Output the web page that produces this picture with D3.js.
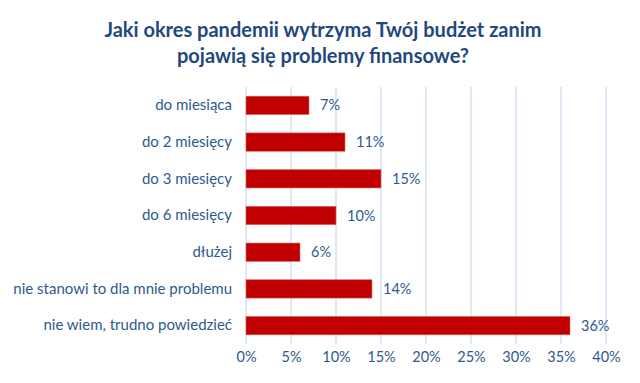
<!DOCTYPE html>
<html><head><meta charset="utf-8">
<script src="https://cdn.jsdelivr.net/npm/d3@7"></script>
<style>body{margin:0;background:#fff}svg{display:block}</style>
</head><body><div id="c"></div>
<script>
const categories = ["do miesiąca","do 2 miesięcy","do 3 miesięcy","do 6 miesięcy","dłużej","nie stanowi to dla mnie problemu","nie wiem, trudno powiedzieć"];
const values = [7,11,15,10,6,14,36];
const ticks = [0,5,10,15,20,25,30,35,40];
const titleLines = ["Jaki okres pandemii wytrzyma Twój budżet zanim","pojawią się problemy finansowe?"];

const W=640,H=383;
const font="Lato, 'Open Sans', sans-serif";
const svg=d3.select("#c").append("svg").attr("width",W).attr("height",H);
const x=d3.scaleLinear().domain([0,40]).range([246,606]);
const y=d3.scaleBand().domain(categories).range([87,344]).paddingInner(0.5).paddingOuter(0.25);

svg.selectAll("text.t").data(titleLines).join("text")
 .attr("x",323).attr("y",(d,i)=>37+i*26).attr("text-anchor","middle")
 .attr("font-family",font).attr("font-weight","bold").attr("font-size",20)
 .attr("fill","#1F497D").text(d=>d);

const g=svg.append("g");
g.selectAll("line.grid").data(ticks).join("line")
 .attr("x1",d=>x(d)).attr("x2",d=>x(d)).attr("y1",87).attr("y2",344)
 .attr("stroke","#D3E1F3").attr("stroke-width",1.5);

g.selectAll("rect").data(values).join("rect")
 .attr("x",x(0)).attr("y",(d,i)=>y(categories[i]))
 .attr("width",d=>x(d)-x(0)).attr("height",y.bandwidth())
 .attr("fill","#C00000").attr("stroke","#E06666").attr("stroke-width",0.6);

g.selectAll("text.v").data(values).join("text")
 .attr("x",d=>x(d)+11).attr("y",(d,i)=>y(categories[i])+y.bandwidth()/2)
 .attr("dy","0.35em").attr("font-family",font).attr("font-size",14.5)
 .attr("fill","#2E5A8E").text(d=>d+"%");

const ya=svg.append("g").attr("transform","translate(232,0)")
 .call(d3.axisLeft(y).tickSize(0).tickPadding(0));
ya.select(".domain").remove();
ya.selectAll("text").attr("font-family",font).attr("font-size",15).attr("fill","#2E5A8E");

const xa=svg.append("g").attr("transform","translate(0,352)")
 .call(d3.axisBottom(x).tickValues(ticks).tickSize(0).tickPadding(0).tickFormat(d=>d+"%"));
xa.select(".domain").remove();
xa.selectAll("text").attr("dy","0.7em").attr("font-family",font).attr("font-size",14.5).attr("fill","#2E5A8E");
</script></body></html>
